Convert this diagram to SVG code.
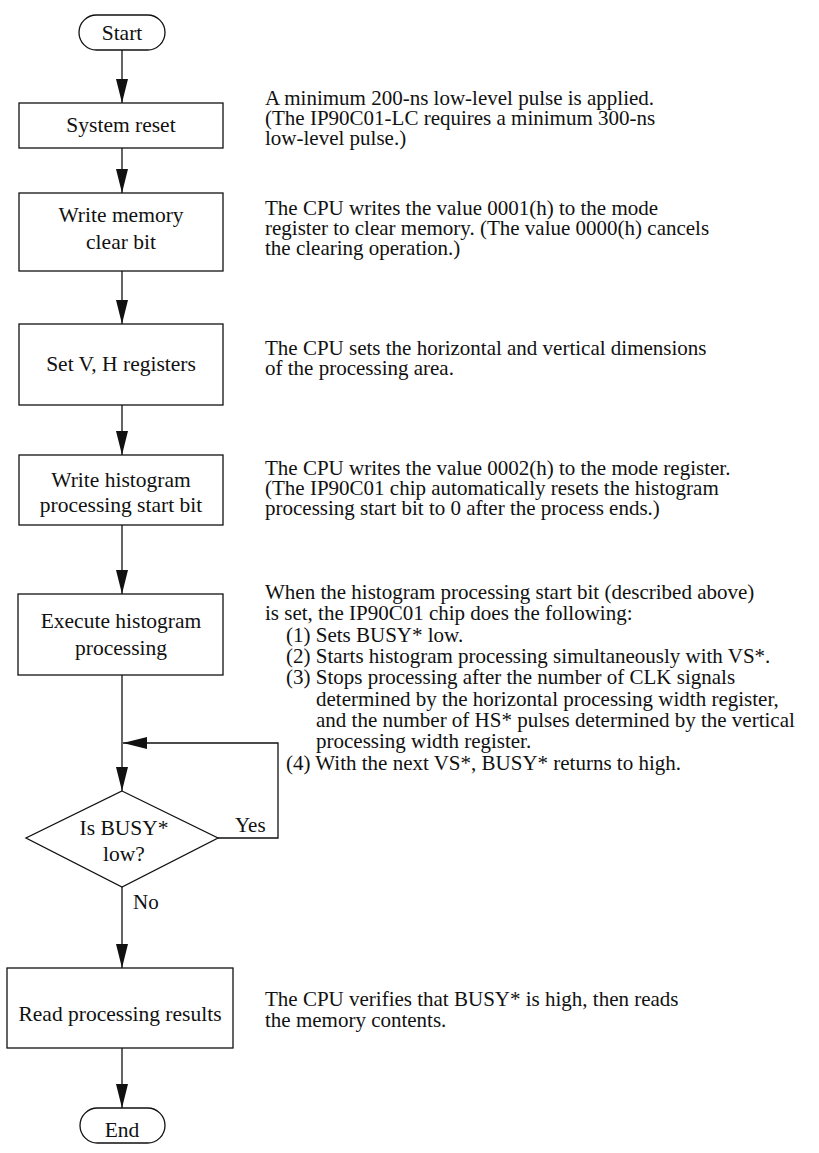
<svg xmlns="http://www.w3.org/2000/svg" width="819" height="1153" viewBox="0 0 819 1153">
<defs>
<style>
.box{fill:#fff;stroke:#111;stroke-width:1.3}
.lbl{font-family:"Liberation Serif","Times New Roman",serif;font-size:21.5px;fill:#111;text-anchor:middle}
.txt{font-family:"Liberation Serif","Times New Roman",serif;font-size:21px;fill:#111}
.edge{fill:none;stroke:#111;stroke-width:1.3}
</style>
<marker id="arr" markerWidth="24" markerHeight="12" refX="24" refY="6" orient="auto" markerUnits="userSpaceOnUse">
<path d="M0,0 L24,6 L0,12 Z" fill="#111"/>
</marker>
</defs>
<rect width="819" height="1153" fill="#fff"/>

<g id="connectors">
<line class="edge" x1="122" y1="50" x2="122" y2="103" marker-end="url(#arr)"/>
<line class="edge" x1="122" y1="148" x2="122" y2="193" marker-end="url(#arr)"/>
<line class="edge" x1="122" y1="271" x2="122" y2="324" marker-end="url(#arr)"/>
<line class="edge" x1="122" y1="405" x2="122" y2="455" marker-end="url(#arr)"/>
<line class="edge" x1="122" y1="525" x2="122" y2="594" marker-end="url(#arr)"/>
<line class="edge" x1="122" y1="675" x2="122" y2="791" marker-end="url(#arr)"/>
<polyline class="edge" points="218,838 278,838 278,743 123,743" marker-end="url(#arr)"/>
<line class="edge" x1="122" y1="887" x2="122" y2="968" marker-end="url(#arr)"/>
<line class="edge" x1="122" y1="1048" x2="122" y2="1108" marker-end="url(#arr)"/>
<text class="txt" x="235" y="832">Yes</text>
<text class="txt" x="133" y="909">No</text>
</g>

<g id="start">
<rect class="box" x="79" y="15" width="86" height="35" rx="17.5"/>
<text class="lbl" x="122" y="40">Start</text>
</g>
<g id="system-reset">
<rect class="box" x="19" y="103" width="204" height="45"/>
<text class="lbl" x="121" y="132">System reset</text>
</g>
<g id="write-memory">
<rect class="box" x="19" y="193" width="204" height="78"/>
<text class="lbl" x="121" y="222">Write memory</text>
<text class="lbl" x="121" y="249">clear bit</text>
</g>
<g id="set-vh">
<rect class="box" x="19" y="324" width="204" height="81"/>
<text class="lbl" x="121" y="371">Set V, H registers</text>
</g>
<g id="write-histogram">
<rect class="box" x="19" y="455" width="204" height="70"/>
<text class="lbl" x="121" y="487">Write histogram</text>
<text class="lbl" x="121" y="512">processing start bit</text>
</g>
<g id="execute">
<rect class="box" x="18" y="594" width="205" height="81"/>
<text class="lbl" x="121" y="628">Execute histogram</text>
<text class="lbl" x="121" y="655">processing</text>
</g>
<g id="busy-decision">
<polygon class="box" points="122,791 218,838 122,887 26,838"/>
<text class="lbl" x="124" y="835">Is BUSY*</text>
<text class="lbl" x="124" y="861">low?</text>
</g>
<g id="read-results">
<rect class="box" x="7" y="968" width="226" height="80"/>
<text class="lbl" x="120" y="1021">Read processing results</text>
</g>
<g id="end">
<rect class="box" x="80" y="1108" width="85" height="35" rx="17.5"/>
<text class="lbl" x="122" y="1137">End</text>
</g>

<g id="notes">
<text class="txt" x="265" y="105">A minimum 200-ns low-level pulse is applied.</text>
<text class="txt" x="265" y="125">(The IP90C01-LC requires a minimum 300-ns</text>
<text class="txt" x="265" y="145">low-level pulse.)</text>

<text class="txt" x="265" y="215">The CPU writes the value 0001(h) to the mode</text>
<text class="txt" x="265" y="235">register to clear memory. (The value 0000(h) cancels</text>
<text class="txt" x="265" y="255">the clearing operation.)</text>

<text class="txt" x="265" y="355">The CPU sets the horizontal and vertical dimensions</text>
<text class="txt" x="265" y="375">of the processing area.</text>

<text class="txt" x="265" y="475">The CPU writes the value 0002(h) to the mode register.</text>
<text class="txt" x="265" y="495">(The IP90C01 chip automatically resets the histogram</text>
<text class="txt" x="265" y="515">processing start bit to 0 after the process ends.)</text>

<text class="txt" x="265" y="599">When the histogram processing start bit (described above)</text>
<text class="txt" x="265" y="620">is set, the IP90C01 chip does the following:</text>
<text class="txt" x="286" y="642">(1) Sets BUSY* low.</text>
<text class="txt" x="286" y="663">(2) Starts histogram processing simultaneously with VS*.</text>
<text class="txt" x="286" y="684">(3) Stops processing after the number of CLK signals</text>
<text class="txt" x="316" y="706">determined by the horizontal processing width register,</text>
<text class="txt" x="316" y="727">and the number of HS* pulses determined by the vertical</text>
<text class="txt" x="316" y="748">processing width register.</text>
<text class="txt" x="286" y="770">(4) With the next VS*, BUSY* returns to high.</text>

<text class="txt" x="265" y="1006">The CPU verifies that BUSY* is high, then reads</text>
<text class="txt" x="265" y="1027">the memory contents.</text>
</g>
</svg>
